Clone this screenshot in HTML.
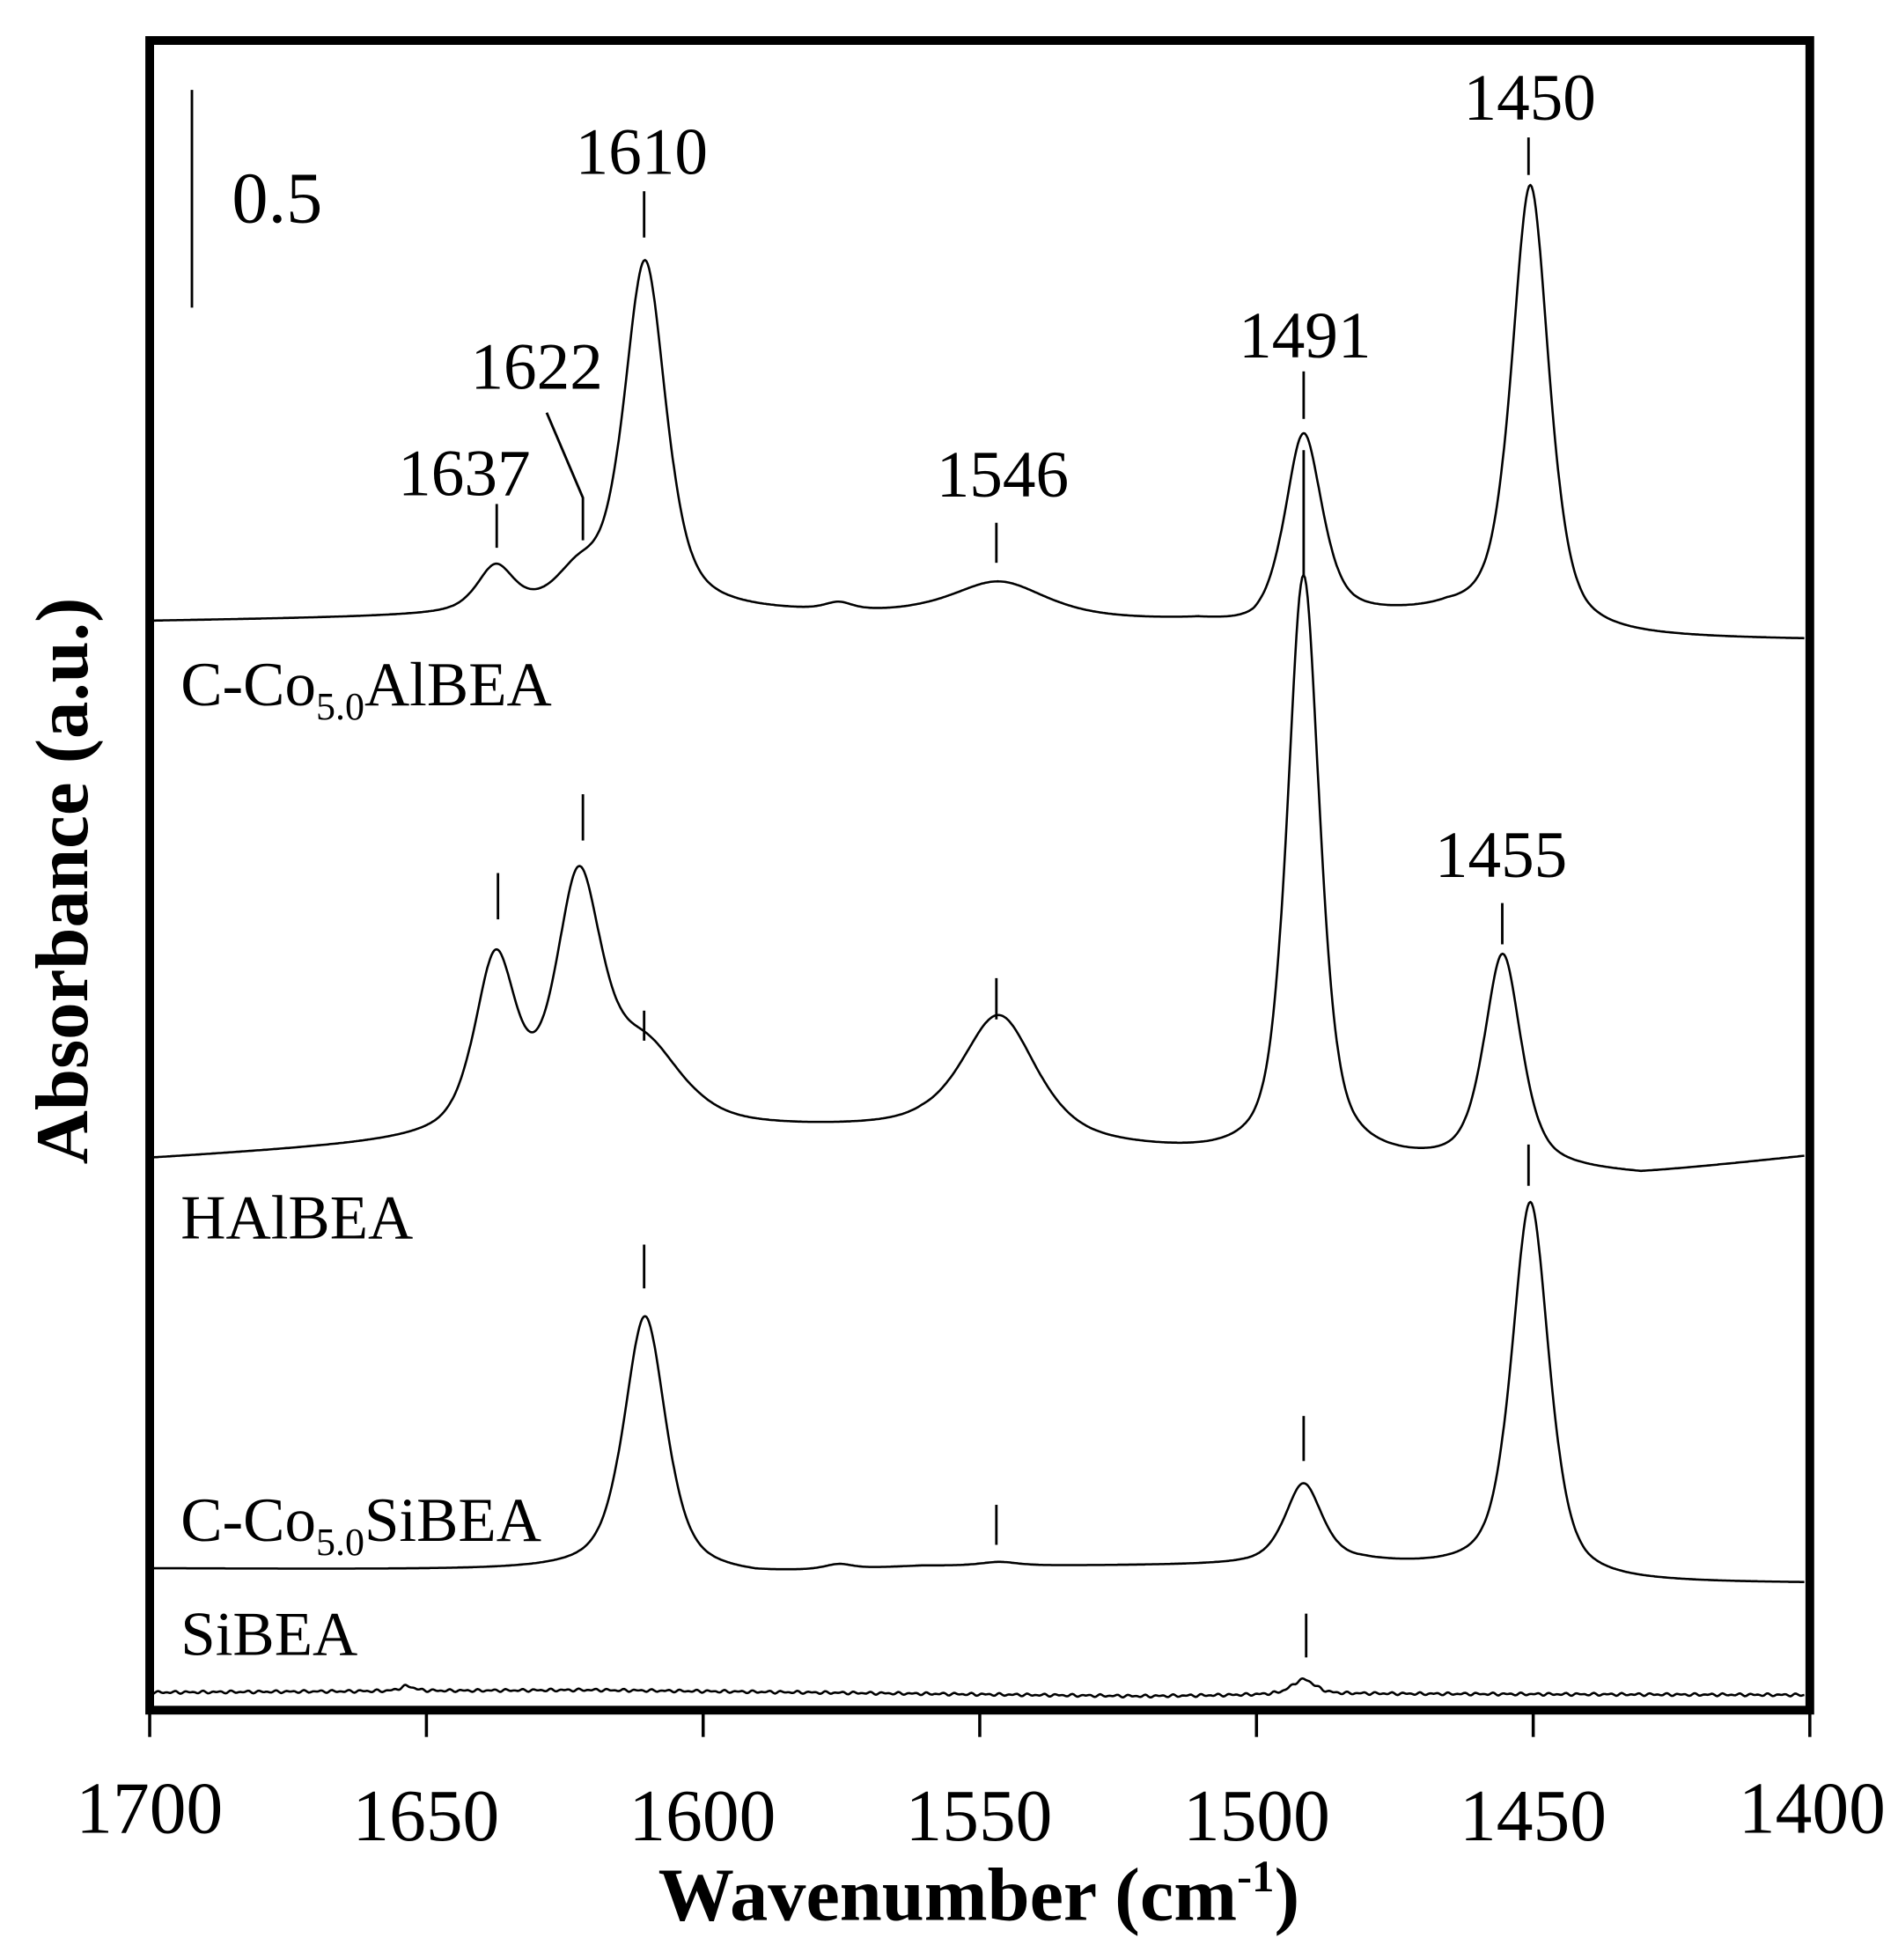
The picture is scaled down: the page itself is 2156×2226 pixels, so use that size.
<!DOCTYPE html>
<html><head><meta charset="utf-8"><style>
html,body{margin:0;padding:0;background:#fff;}
svg{display:block;}
text{font-family:"Liberation Serif","DejaVu Serif",serif;fill:#000;}
</style></head><body>
<svg id="s" width="2156" height="2226" viewBox="0 0 1524 1573" preserveAspectRatio="none" xmlns="http://www.w3.org/2000/svg">
<rect x="0" y="0" width="1524" height="1573" fill="#fff"/>
<g transform="matrix(1.003,0,0,1.004,-0.35,-0.13)">
<g id="curves" fill="none" stroke="#000" stroke-width="1.8" stroke-linejoin="round"></g>
<g stroke="#000" stroke-width="2">
<line x1="154" y1="72" x2="154" y2="246"/>
<line x1="516" y1="153" x2="516" y2="190"/>
<line x1="1224" y1="110" x2="1224" y2="140"/>
<line x1="1044" y1="297" x2="1044" y2="335"/>
<line x1="798" y1="418" x2="798" y2="450"/>
<line x1="398" y1="403" x2="398" y2="438"/>
<polyline points="438,330 467,398 467,432" fill="none"/>
<line x1="1044" y1="360" x2="1044" y2="460"/>
<line x1="399" y1="698" x2="399" y2="735"/>
<line x1="467" y1="635" x2="467" y2="672"/>
<line x1="516" y1="808" x2="516" y2="832"/>
<line x1="798" y1="782" x2="798" y2="815"/>
<line x1="1203" y1="722" x2="1203" y2="755"/>
<line x1="516" y1="995" x2="516" y2="1030"/>
<line x1="1224" y1="915" x2="1224" y2="948"/>
<line x1="1044" y1="1132" x2="1044" y2="1168"/>
<line x1="798" y1="1203" x2="798" y2="1235"/>
<line x1="1046" y1="1290" x2="1046" y2="1325"/>
</g>
<text x="186" y="178" font-size="58">0.5</text>
<g font-size="53" text-anchor="middle">
<text x="514" y="139">1610</text>
<text x="1225" y="96">1450</text>
<text x="1045" y="286">1491</text>
<text x="803" y="397">1546</text>
<text x="372" y="396">1637</text>
<text x="430" y="311">1622</text>
<text x="1202" y="701">1455</text>
</g>
<g font-size="50">
<text x="145" y="564">C-Co<tspan font-size="31" dy="11">5.0</tspan><tspan dy="-11">AlBEA</tspan></text>
<text x="145" y="990">HAlBEA</text>
<text x="145" y="1232">C-Co<tspan font-size="31" dy="11">5.0</tspan><tspan dy="-11">SiBEA</tspan></text>
<text x="145" y="1323">SiBEA</text>
</g>
</g>
<rect x="120.2" y="32.5" width="1333" height="1340" fill="none" stroke="#000" stroke-width="7"/>
<g stroke="#000" stroke-width="2.5">
<line x1="120.2" y1="1372" x2="120.2" y2="1394"/>
<line x1="342.4" y1="1372" x2="342.4" y2="1394"/>
<line x1="564.6" y1="1372" x2="564.6" y2="1394"/>
<line x1="786.7" y1="1372" x2="786.7" y2="1394"/>
<line x1="1008.9" y1="1372" x2="1008.9" y2="1394"/>
<line x1="1231.1" y1="1372" x2="1231.1" y2="1394"/>
<line x1="1453.2" y1="1372" x2="1453.2" y2="1394"/>
</g>
<g font-size="59" text-anchor="middle">
<text x="120" y="1471">1700</text>
<text x="342" y="1477">1650</text>
<text x="564" y="1477">1600</text>
<text x="786" y="1477">1550</text>
<text x="1009" y="1477">1500</text>
<text x="1231" y="1477">1450</text>
<text x="1455" y="1471">1400</text>
</g>
<text x="786" y="1541" font-size="61" font-weight="bold" text-anchor="middle">Wavenumber (cm<tspan font-size="36" dy="-23">-1</tspan><tspan dy="23">)</tspan></text>
<text transform="translate(70,707) rotate(-90)" font-size="60" font-weight="bold" text-anchor="middle">Absorbance (a.u.)</text>
</svg>
<script>
function X(w){return 118+(1700-w)*4.43;}
function interp(pts,w){for(var i=0;i<pts.length-1;i++){var a=pts[i],b=pts[i+1];if(w<=a[0]&&w>=b[0]){var t=(a[0]-w)/(a[0]-b[0]);return a[1]+t*(b[1]-a[1]);}}return pts[pts.length-1][1];}
function pk(w,c,a,g){var d=(w-c)/g;return a*(0.6/(1+d*d)+0.4*Math.exp(-0.693*d*d));}
function build(base,peaks,noise){var d="";for(var w=1699.5;w>=1400.5;w-=0.25){var y=interp(base,w);for(var i=0;i<peaks.length;i++)y-=pk(w,peaks[i][0],peaks[i][1],peaks[i][2]);if(noise)y+=noise*Math.sin(w*3.1)*Math.sin(w*0.7);d+=(d?"L":"M")+X(w).toFixed(1)+","+y.toFixed(1);}return d;}
var C=[
[[[1700,497],[1600,491],[1560,493],[1510,499],[1500,505],[1486,496],[1465,494],[1440,511],[1400,512]],
 [[1637,36,4],[1622,26,5],[1610,280,4.5],[1575,6,3],[1546,28,10],[1491,150,4],[1450,355,4]],0],
[[[1700,927],[1650,915],[1600,905],[1560,905],[1530,918],[1500,930],[1480,931],[1460,935],[1430,940],[1400,925]],
 [[1637,138,4.5],[1622,193,5],[1610,60,8],[1546,97,8],[1491,468,3.5],[1455,170,4]],0],
[[[1700,1254],[1620,1256],[1590,1260],[1560,1253],[1500,1252],[1480,1251],[1455,1259],[1440,1266],[1400,1266]],
 [[1610,205,4.5],[1575,4,3],[1546,3,4],[1491,64,4],[1450,300,4]],0],
[[[1700,1353],[1620,1351],[1560,1354],[1520,1356],[1480,1354],[1400,1355]],
 [[1491,12,2.5],[1653,4,1.5]],1.2]
];
var g=document.getElementById("curves");
C.forEach(function(c){var p=document.createElementNS("http://www.w3.org/2000/svg","path");p.setAttribute("d",build(c[0],c[1],c[2]));g.appendChild(p);});
</script>
</body></html>
